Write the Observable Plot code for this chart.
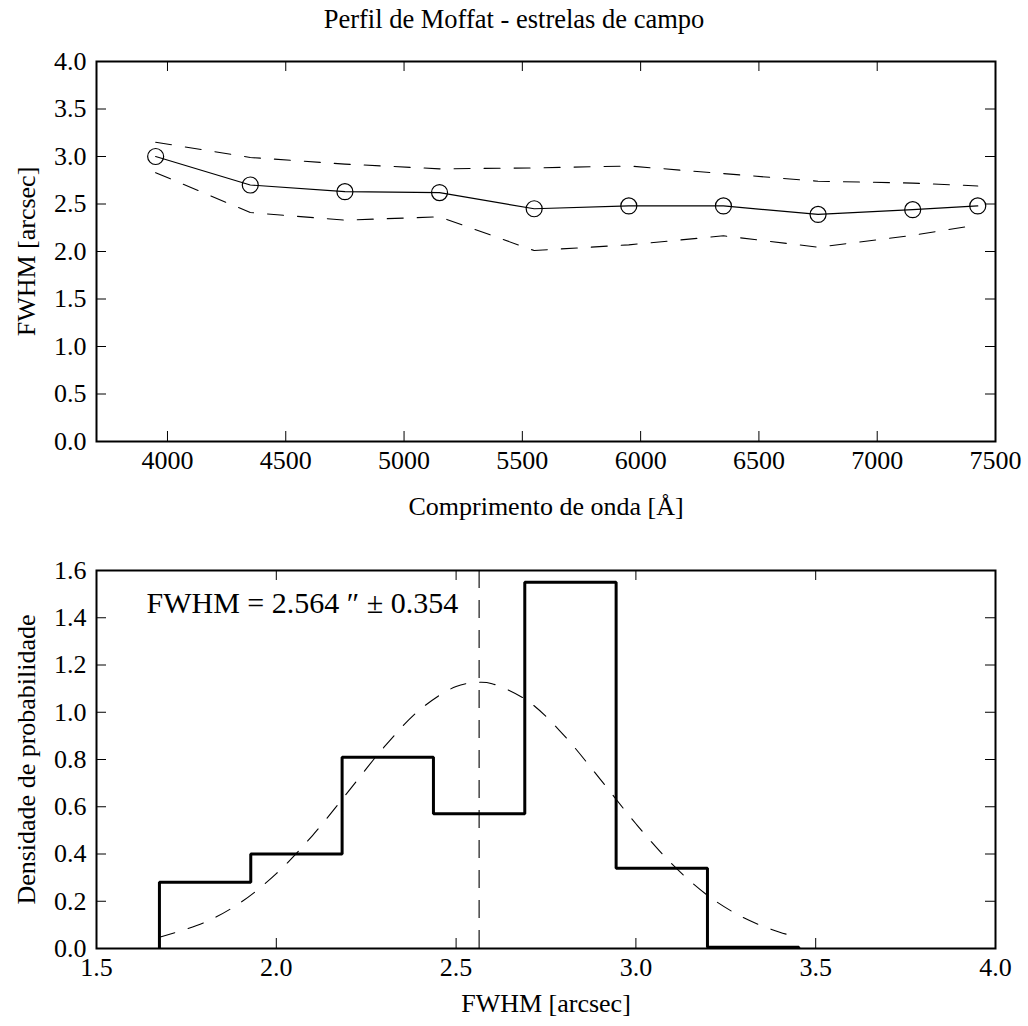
<!DOCTYPE html>
<html><head><meta charset="utf-8">
<script src="https://cdn.jsdelivr.net/npm/d3@7"></script>
<script src="https://cdn.jsdelivr.net/npm/@observablehq/plot@0.6"></script>
<style>
body{margin:0;background:#fff;}
#wrap{position:relative;width:1028px;height:1026px;font-family:"Liberation Serif",serif;background:#fff;}
#title{position:absolute;top:4px;left:0;width:1028px;text-align:center;font-size:26.5px;line-height:30px;color:#000;}
#p1{position:absolute;top:40px;left:0;}
#p2{position:absolute;top:550px;left:0;}
#wrap svg, #wrap svg text{font-family:"Liberation Serif",serif !important;}
</style></head><body>
<div id="wrap"><div id="title">Perfil de Moffat - estrelas de campo</div><div id="p1"></div><div id="p2"></div></div>
<script>
// ---- Top panel data ----
const wavelength = [3950, 4350, 4750, 5150, 5550, 5950, 6350, 6750, 7150, 7425];
const fwhmMedian = [3.00, 2.70, 2.63, 2.62, 2.45, 2.48, 2.48, 2.39, 2.44, 2.48];
const fwhmUpper  = [3.15, 2.99, 2.92, 2.87, 2.88, 2.90, 2.82, 2.74, 2.72, 2.69];
const fwhmLower  = [2.83, 2.41, 2.33, 2.365, 2.01, 2.07, 2.165, 2.045, 2.17, 2.28];
const topXTicks = [4000, 4500, 5000, 5500, 6000, 6500, 7000, 7500];
const topYTicks = [0, 0.5, 1.0, 1.5, 2.0, 2.5, 3.0, 3.5, 4.0];

// ---- Bottom panel data ----
const binEdges   = [1.675, 1.929, 2.183, 2.437, 2.691, 2.945, 3.199, 3.453];
const binDensity = [0.28, 0.40, 0.81, 0.57, 1.55, 0.34, 0.005];
const fitX = [1.675, 1.8, 1.9, 2.0, 2.1, 2.2, 2.3, 2.4, 2.5, 2.564, 2.6, 2.7, 2.8, 2.9, 3.0, 3.1, 3.2, 3.3, 3.4, 3.453];
const fitY = [0.048, 0.110, 0.194, 0.317, 0.477, 0.664, 0.853, 1.012, 1.109, 1.127, 1.121, 1.047, 0.902, 0.718, 0.528, 0.358, 0.224, 0.130, 0.069, 0.047];
const fwhmMean = 2.564;
const fwhmStd = 0.354;
const botXTicks = [1.5, 2.0, 2.5, 3.0, 3.5, 4.0];
const botYTicks = [0, 0.2, 0.4, 0.6, 0.8, 1.0, 1.2, 1.4, 1.6];

const FONT = "Liberation Serif";
const DASH = "16,14";
const style = {fontFamily: FONT, fontSize: "26px", color: "#000", background: "#fff", overflow: "visible"};

// ---- Top plot ----
const W = 1028;
const top1 = {h: 500, mt: 21, mb: 99, ml: 96, mr: 33};
const fh1 = top1.h - top1.mt - top1.mb;
const fw = W - top1.ml - top1.mr;
const pts = wavelength.map((w, i) => ({w, m: fwhmMedian[i], u: fwhmUpper[i], l: fwhmLower[i]}));

const plot1 = Plot.plot({
  width: W, height: top1.h,
  marginTop: top1.mt, marginBottom: top1.mb, marginLeft: top1.ml, marginRight: top1.mr,
  style,
  x: {domain: [3700, 7500]},
  y: {domain: [0, 4]},
  marks: [
    Plot.line(pts, {x: "w", y: "u", stroke: "#000", strokeWidth: 1.1, strokeDasharray: DASH}),
    Plot.line(pts, {x: "w", y: "l", stroke: "#000", strokeWidth: 1.1, strokeDasharray: DASH}),
    Plot.line(pts, {x: "w", y: "m", stroke: "#000", strokeWidth: 1.2}),
    Plot.dot(pts, {x: "w", y: "m", r: 8, stroke: "#000", strokeWidth: 1.2, fill: "none"}),
    Plot.tickX(topXTicks, {x: d => d, stroke: "#000", strokeWidth: 1, insetTop: fh1 - 10}),
    Plot.tickX(topXTicks, {x: d => d, stroke: "#000", strokeWidth: 1, insetBottom: fh1 - 10}),
    Plot.tickY(topYTicks, {y: d => d, stroke: "#000", strokeWidth: 1, insetRight: fw - 10}),
    Plot.tickY(topYTicks, {y: d => d, stroke: "#000", strokeWidth: 1, insetLeft: fw - 10}),
    Plot.axisX({anchor: "bottom", ticks: topXTicks, tickSize: 0, tickPadding: 9, tickFormat: d3.format("d"),
      fontFamily: FONT, label: "Comprimento de onda [Å]", labelAnchor: "center", labelArrow: "none", labelOffset: 73}),
    Plot.axisY({anchor: "left", ticks: topYTicks, tickSize: 0, tickPadding: 10, tickFormat: d3.format(".1f"),
      fontFamily: FONT, label: "FWHM [arcsec]", labelAnchor: "center", labelArrow: "none", labelOffset: 80}),
    Plot.frame({stroke: "#000", strokeWidth: 2})
  ]
});
document.getElementById("p1").appendChild(plot1);

// ---- Bottom plot ----
const b = {h: 476, mt: 20, mb: 78, ml: 96, mr: 33};
const fh2 = b.h - b.mt - b.mb;
const steps = [];
steps.push({x: binEdges[0], y: 0});
binDensity.forEach((d, i) => {
  steps.push({x: binEdges[i], y: d});
  steps.push({x: binEdges[i + 1], y: d});
});
steps.push({x: binEdges[binEdges.length - 1], y: 0});
const fit = fitX.map((x, i) => ({x, y: fitY[i]}));

const plot2 = Plot.plot({
  width: W, height: b.h,
  marginTop: b.mt, marginBottom: b.mb, marginLeft: b.ml, marginRight: b.mr,
  style,
  x: {domain: [1.5, 4.0]},
  y: {domain: [0, 1.6]},
  marks: [
    Plot.line(fit, {x: "x", y: "y", curve: "catmull-rom", stroke: "#000", strokeWidth: 1.1, strokeDasharray: DASH}),
    Plot.ruleX([fwhmMean], {x: d => d, stroke: "#000", strokeWidth: 1.1, strokeDasharray: "18,12"}),
    Plot.line(steps, {x: "x", y: "y", stroke: "#000", strokeWidth: 3, strokeLinejoin: "miter", strokeLinecap: "butt"}),
    Plot.text([`FWHM = ${fwhmMean.toFixed(3)} \u2033 \u00b1 ${fwhmStd.toFixed(3)}`], {
      text: d => d, frameAnchor: "top-left", dx: 50, dy: 33, textAnchor: "start", lineAnchor: "middle",
      fontSize: 30, fontFamily: FONT, fill: "#000"}),
    Plot.tickX(botXTicks, {x: d => d, stroke: "#000", strokeWidth: 1, insetTop: fh2 - 10}),
    Plot.tickX(botXTicks, {x: d => d, stroke: "#000", strokeWidth: 1, insetBottom: fh2 - 10}),
    Plot.tickY(botYTicks, {y: d => d, stroke: "#000", strokeWidth: 1, insetRight: fw - 10}),
    Plot.tickY(botYTicks, {y: d => d, stroke: "#000", strokeWidth: 1, insetLeft: fw - 10}),
    Plot.axisX({anchor: "bottom", ticks: botXTicks, tickSize: 0, tickPadding: 9, tickFormat: d3.format(".1f"),
      fontFamily: FONT, label: "FWHM [arcsec]", labelAnchor: "center", labelArrow: "none", labelOffset: 63}),
    Plot.axisY({anchor: "left", ticks: botYTicks, tickSize: 0, tickPadding: 10, tickFormat: d3.format(".1f"),
      fontFamily: FONT, label: "Densidade de probabilidade", labelAnchor: "center", labelArrow: "none", labelOffset: 80}),
    Plot.frame({stroke: "#000", strokeWidth: 2})
  ]
});
document.getElementById("p2").appendChild(plot2);
</script>
</body></html>
